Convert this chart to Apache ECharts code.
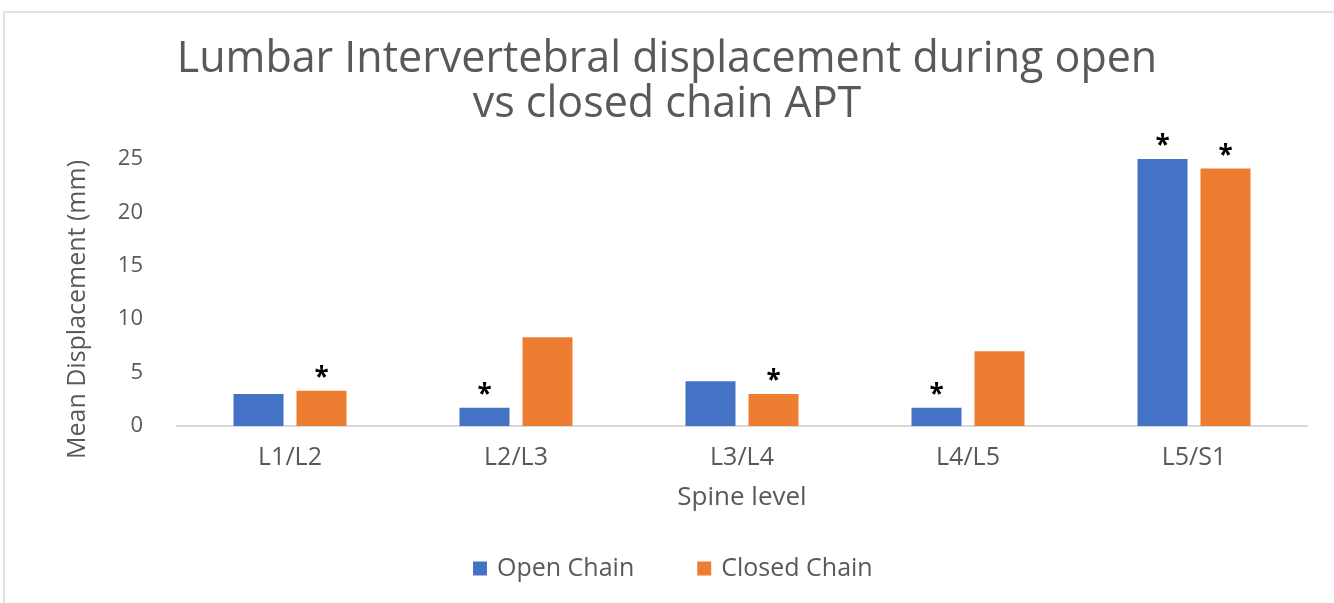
<!DOCTYPE html>
<html>
<head>
<meta charset="utf-8">
<script src="https://cdn.jsdelivr.net/npm/echarts@6/dist/echarts.min.js"></script>
<style>
html, body { margin: 0; padding: 0; background: #fff; }
#frame { position: absolute; left: 3px; top: 11px; width: 1331px; height: 592px;
  border-top: 2px solid #e3e3e3; border-left: 2px solid #e3e3e3; box-sizing: border-box; }
#chart { position: absolute; left: 0; top: 0; width: 1334px; height: 603px; }
</style>
</head>
<body>
<div id="frame"></div>
<div id="chart"></div>
<script>
// spine levels and mean displacement (mm)
var levels = ['L1/L2', 'L2/L3', 'L3/L4', 'L4/L5', 'L5/S1'];
var openChain = [3.0, 1.7, 4.2, 1.7, 25.0];
var closedChain = [3.3, 8.3, 3.0, 7.0, 24.1];
// significance markers (*)
var openSig = [0, 1, 0, 1, 1];
var closedSig = [1, 0, 1, 0, 1];
var yTicks = [0, 5, 10, 15, 20, 25];

var txt = '#595959';
var font = "'Open Sans', 'Noto Sans', sans-serif";

function starLabel(flags) {
	return {
		show: true,
		position: 'top',
		distance: -1,
		color: '#000',
		fontSize: 26,
		fontWeight: 'bold',
		fontFamily: font,
		formatter: function(p) { return flags[p.dataIndex] ? '*' : ''; }
	};
}

var myChart = echarts.init(document.getElementById('chart'));
myChart.setOption({
	animation: false,
	textStyle: { fontFamily: font },
	title: {
		text: 'Lumbar Intervertebral displacement during open\nvs closed chain APT',
		left: 'center',
		top: 32,
		textStyle: { color: txt, fontSize: 43, fontWeight: 'normal', lineHeight: 45, fontFamily: font }
	},
	legend: {
		top: 556,
		left: 473,
		padding: 0,
		itemWidth: 14,
		itemHeight: 14,
		itemGap: 63,
		icon: 'rect',
		textStyle: { color: txt, fontSize: 25, fontFamily: font, padding: [0, 0, 0, 5] },
		data: ['Open Chain', 'Closed Chain']
	},
	grid: { left: 177, right: 27, top: 159, bottom: 177 },
	xAxis: {
		type: 'category',
		data: levels,
		axisLine: { lineStyle: { color: '#d9d9d9', width: 2 } },
		axisTick: { show: false },
		axisLabel: { color: txt, fontSize: 25, margin: 19 },
		name: 'Spine level',
		nameLocation: 'middle',
		nameGap: 59,
		nameTextStyle: { color: txt, fontSize: 26 }
	},
	yAxis: {
		type: 'value',
		min: yTicks[0],
		max: yTicks[yTicks.length - 1],
		interval: 5,
		splitLine: { show: false },
		axisLine: { show: false },
		axisTick: { show: false },
		axisLabel: { color: txt, fontSize: 22, margin: 34 },
		name: 'Mean Displacement (mm)',
		nameLocation: 'middle',
		nameGap: 87,
		nameTextStyle: { color: txt, fontSize: 25, padding: [0, 34, 0, 0] }
	},
	series: [
		{
			name: 'Open Chain',
			type: 'bar',
			data: openChain,
			barWidth: 50,
			barGap: '26%',
			itemStyle: { color: '#4472C4' },
			label: starLabel(openSig)
		},
		{
			name: 'Closed Chain',
			type: 'bar',
			data: closedChain,
			barWidth: 50,
			itemStyle: { color: '#ED7D31' },
			label: starLabel(closedSig)
		}
	]
});
</script>
</body>
</html>
